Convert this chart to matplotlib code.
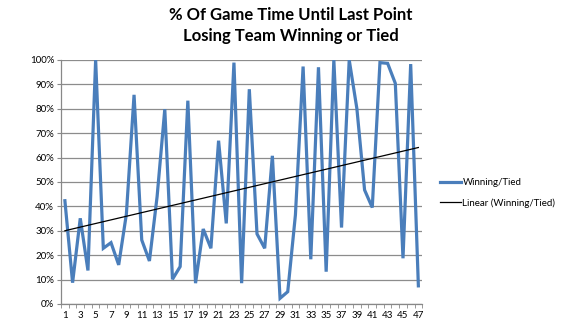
import matplotlib
matplotlib.use("Agg")
import matplotlib.pyplot as plt
import numpy as np

games = list(range(1, 48))
winning_tied = [42.3, 8.7, 35.1, 13.7, 100, 22.8, 25.1, 16.0, 36.8, 85.7,
                26.2, 17.6, 44.0, 79.8, 10.1, 15.3, 83.3, 8.5, 30.7, 22.8,
                66.9, 33.0, 98.9, 8.5, 88.0, 28.7, 22.8, 60.7, 2.3, 5.0,
                36.5, 97.3, 18.3, 97.0, 13.2, 100, 31.3, 100, 80.0, 46.7,
                39.5, 98.9, 98.6, 90.4, 18.7, 98.3, 7.4]
xtick_labels = [str(i) for i in range(1, 48, 2)]
ytick_labels = [f"{v}%" for v in range(0, 101, 10)]

plt.rcParams['font.family'] = ['Lato', 'DejaVu Sans']

fig = plt.figure(figsize=(5.76, 3.24), dpi=100)
ax = fig.add_axes([0.106, 0.062, 0.627, 0.753])

x = np.array(games)
y = np.array(winning_tied)
ax.plot(x, y, color='#4A7EBB', lw=2.3, label='Winning/Tied', solid_joinstyle='miter', zorder=3)
coef = np.polyfit(x, y, 1)
ax.plot(x, np.polyval(coef, x), color='black', lw=0.9, label='Linear (Winning/Tied)', zorder=4)

ax.set_xlim(0.5, 47.5)
ax.set_ylim(0, 100)
ax.set_yticks(range(0, 101, 10))
ax.set_yticklabels(ytick_labels, fontsize=7)
ax.set_xticks(range(1, 48, 2))
ax.set_xticklabels(xtick_labels, fontsize=7)
ax.set_xticks(np.arange(0.5, 48, 1), minor=True)
ax.tick_params(axis='x', which='major', length=0, pad=5)
ax.tick_params(axis='x', which='minor', length=3, color='#888888', direction='out')
ax.tick_params(axis='y', length=3, color='#888888', pad=2)
ax.grid(axis='y', color='#8c8c8c', lw=0.9)
ax.set_axisbelow(True)
for s in ['top', 'right']:
    ax.spines[s].set_visible(False)
for s in ['left', 'bottom']:
    ax.spines[s].set_color('#888888')
    ax.spines[s].set_linewidth(0.9)

fig.text(0.505, 0.955, "% Of Game Time Until Last Point", ha='center', va='center',
         fontsize=12, fontweight='bold')
fig.text(0.505, 0.89, "Losing Team Winning or Tied", ha='center', va='center',
         fontsize=12, fontweight='bold')

ax.legend(loc='center left', bbox_to_anchor=(1.025, 0.455), frameon=False, fontsize=7,
          handlelength=2.2, handletextpad=0.1, labelspacing=1.1)

fig.savefig('out.png', dpi=100)
